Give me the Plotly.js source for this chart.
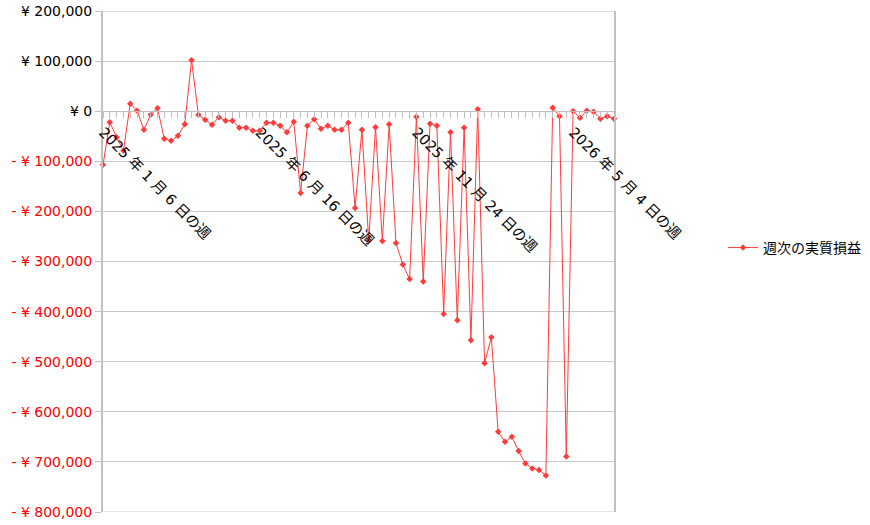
<!DOCTYPE html>
<html>
<head>
<meta charset="utf-8">
<script src="https://cdn.plot.ly/plotly-3.0.1.min.js"></script>
<style>
  html, body { margin: 0; padding: 0; background: #ffffff; }
  #chart { width: 870px; height: 525px; }
</style>
</head>
<body>
<div id="chart"></div>
<script>
// Weekly realized P/L (週次の実質損益), one value per week starting 2025-01-06
const weekValues = [
  -107000, -22000, -52000, -79000, 15000, 1000, -37000, -7000, 6000, -55000,
  -59000, -49000, -26000, 102000, -7000, -17000, -27000, -12000, -19000, -19000,
  -33000, -33000, -39000, -39000, -23000, -23000, -29000, -42000, -21000, -163000,
  -29000, -16000, -35000, -29000, -37000, -37000, -23000, -193000, -37000, -258000,
  -32000, -259000, -26000, -263000, -306000, -335000, -11000, -340000, -25000, -29000,
  -405000, -42000, -417000, -33000, -457000, 4000, -503000, -451000, -640000, -660000,
  -650000, -678000, -703000, -713000, -716000, -727000, 7000, -10000, -689000, 0,
  -13000, 1000, -1000, -15000, -10000, -15000
];
const seriesName = "週次の実質損益";

// Category tick labels (week index -> label)
const labelWeekIndex = [0, 23, 46, 69];
const labelText = [
  "2025 年 1 月 6 日の週",
  "2025 年 6 月 16 日の週",
  "2025 年 11 月 24 日の週",
  "2026 年 5 月 4 日の週"
];

// Y axis ticks
const yTickValues = [200000, 100000, 0, -100000, -200000, -300000, -400000, -500000, -600000, -700000, -800000];
const yMin = -800000;
const yMax = 200000;

function yenLabel(v) {
  const s = Math.abs(v).toLocaleString("en-US");
  if (v < 0) return '<span style="color:#ff0000">- ¥ ' + s + '</span>';
  return '¥ ' + s;
}

const xIdx = weekValues.map((_, i) => i);
const xTickText = xIdx.map(i => {
  const k = labelWeekIndex.indexOf(i);
  return k >= 0 ? labelText[k] : "";
});

const lineColor = "#ff3b3b";
const gridColor = "#c8c8c8";
const font = "'DejaVu Sans', 'Noto Sans CJK JP', sans-serif";
const cjkFont = "'Noto Sans CJK JP', 'DejaVu Sans', sans-serif";

const trace = {
  x: xIdx,
  y: weekValues,
  type: "scatter",
  mode: "lines+markers",
  name: seriesName,
  line: { color: lineColor, width: 1 },
  marker: { symbol: "diamond", size: 5, color: lineColor },
  cliponaxis: false,
  hoverinfo: "y"
};

const layout = {
  width: 870,
  height: 525,
  autosize: false,
  margin: { l: 103, r: 256, t: 11, b: 13, pad: 0, autoexpand: false },
  paper_bgcolor: "#ffffff",
  plot_bgcolor: "#ffffff",
  font: { family: font, size: 14, color: "#000000" },
  showlegend: true,
  legend: {
    x: 1.2133, y: 0.527, xanchor: "left", yanchor: "middle",
    font: { family: cjkFont, size: 14, color: "#000000" },
    bgcolor: "rgba(0,0,0,0)"
  },
  shapes: [
    { type: "line", xref: "paper", x0: 0, x1: 1, yref: "y", y0: yMax, y1: yMax,
      line: { color: gridColor, width: 1 }, layer: "below" },
    { type: "line", xref: "paper", x0: 0, x1: 1, yref: "y", y0: yMin, y1: yMin,
      line: { color: gridColor, width: 1 }, layer: "below" }
  ],
  xaxis: {
    type: "linear",
    range: [0, weekValues.length - 1],
    anchor: "free",
    position: 0.8,
    showline: true,
    linecolor: "#bfbfbf",
    linewidth: 1,
    ticks: "outside",
    ticklen: 6,
    tickwidth: 1,
    tickcolor: "#bfbfbf",
    tickmode: "array",
    tickvals: xIdx,
    ticktext: xTickText,
    tickangle: 45,
    tickfont: { family: font, size: 14.5, color: "#000000" },
    showgrid: false,
    zeroline: false,
    fixedrange: true
  },
  yaxis: {
    range: [yMin, yMax + 100],
    tickmode: "array",
    tickvals: yTickValues,
    ticktext: yTickValues.map(yenLabel),
    showgrid: true,
    gridcolor: gridColor,
    gridwidth: 1,
    showline: true,
    mirror: true,
    linecolor: "#c0c0c0",
    linewidth: 2,
    ticks: "outside",
    ticklen: 6,
    tickcolor: "#c0c0c0",
    tickfont: { family: font, size: 14, color: "#000000" },
    zeroline: false,
    fixedrange: true
  }
};

Plotly.newPlot("chart", [trace], layout, { displayModeBar: false, staticPlot: true });
</script>
</body>
</html>
